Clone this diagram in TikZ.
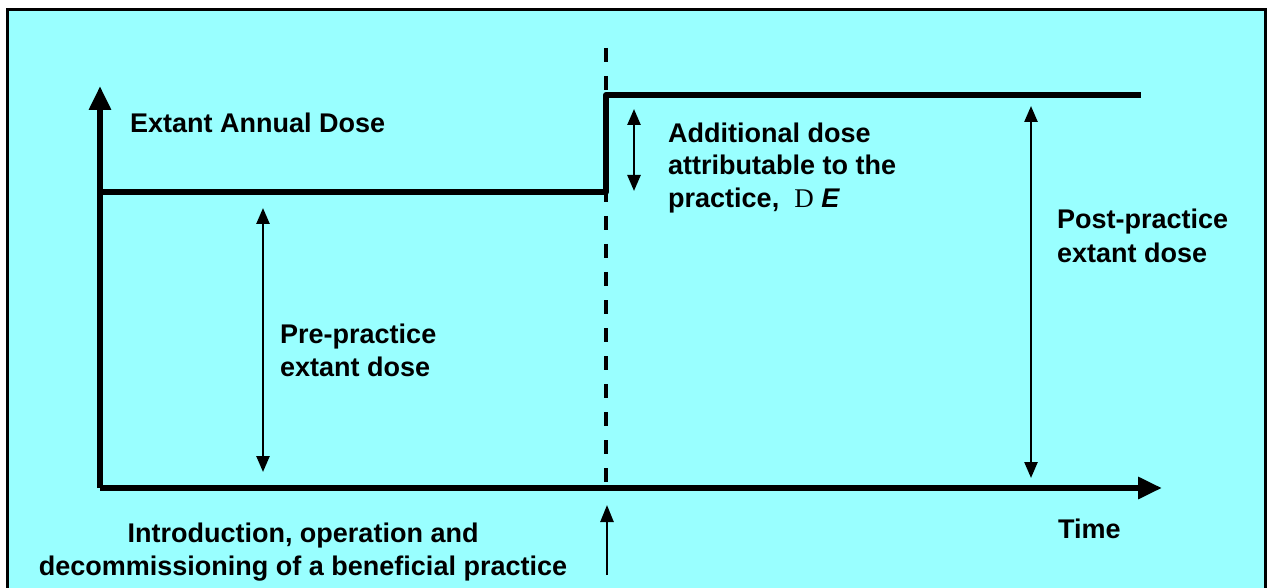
\documentclass[tikz,border=0pt]{standalone}
\usepackage{fontspec}
\setmainfont{Liberation Sans}
\newfontfamily\serifglyph{Liberation Serif}
\usetikzlibrary{arrows.meta}
\definecolor{panelcyan}{RGB}{153,255,255}
\tikzset{
  lbl/.style={font=\bfseries\fontsize{27}{33}\selectfont, inner sep=0pt, align=left},
  heavy/.style={line width=6pt, draw=black},
  axis/.style={heavy, -{Triangle[length=24pt,width=21pt]}},
  span/.style={line width=2.5pt, {Triangle[length=16pt,width=13pt]}-{Triangle[length=16pt,width=13pt]}},
  marker/.style={line width=2.5pt, -{Triangle[length=17pt,width=13pt]}},
  divider/.style={line width=4pt, dash pattern=on 14pt off 14pt}
}
\begin{document}
\begin{tikzpicture}[x=1pt,y=-1pt]
\useasboundingbox (0,0) rectangle (1267,588);
\clip (0,0) rectangle (1267,588);
% background panel
\draw[line width=3pt, fill=panelcyan] (7.5,9.5) rectangle (1265.5,640);

% key points
\coordinate (origin) at (100,488);
\coordinate (ytip) at (100,86);
\coordinate (xtip) at (1162,488);
\coordinate (preL) at (100,192);
\coordinate (step) at (606,192);
\coordinate (stepTop) at (606,95);
\coordinate (postR) at (1141,95);
\coordinate (divTop) at (606,48);
\coordinate (divBot) at (606,492);

% dashed divider at the start of the practice
\draw[divider] (divTop) -- (divBot);

% axes
\draw[axis] (origin) -- (ytip);
\draw[axis] (origin) -- (xtip);

% annual dose level before and after the practice
\draw[heavy, line join=round] (preL) -- (step) -- (stepTop) -- (postR);

% dose spans
\coordinate (preA) at (263,208);
\coordinate (preB) at (263,472);
\draw[span] (preA) -- (preB);
\coordinate (addA) at (634,109);
\coordinate (addB) at (634,191);
\draw[span] (addA) -- (addB);
\coordinate (postA) at (1031,106);
\coordinate (postB) at (1031,478);
\draw[span] (postA) -- (postB);

% marker for the start of the practice
\coordinate (mkBot) at (607,575);
\coordinate (mkTop) at (607,505);
\draw[marker] (mkBot) -- (mkTop);

% labels (multi-line nodes are placed by the baseline of their last line)
\node[lbl, anchor=base west] (ylab) at (130,133) {Extant Annual Dose};
\node[lbl, anchor=base west] (addlab) at (668,208) {Additional dose\\attributable to the\\practice,\ \ {\serifglyph\mdseries D} \textit{E}};
\node[lbl, anchor=base west] (postlab) at (1057,262) {Post-practice\\extant dose};
\node[lbl, anchor=base west] (prelab) at (280,376) {Pre-practice\\extant dose};
\node[lbl, anchor=base west] (tlab) at (1058,538) {Time};
\node[lbl, align=center, anchor=base] (introlab) at (303,575) {Introduction, operation and\\decommissioning of a beneficial practice};
\end{tikzpicture}
\end{document}
